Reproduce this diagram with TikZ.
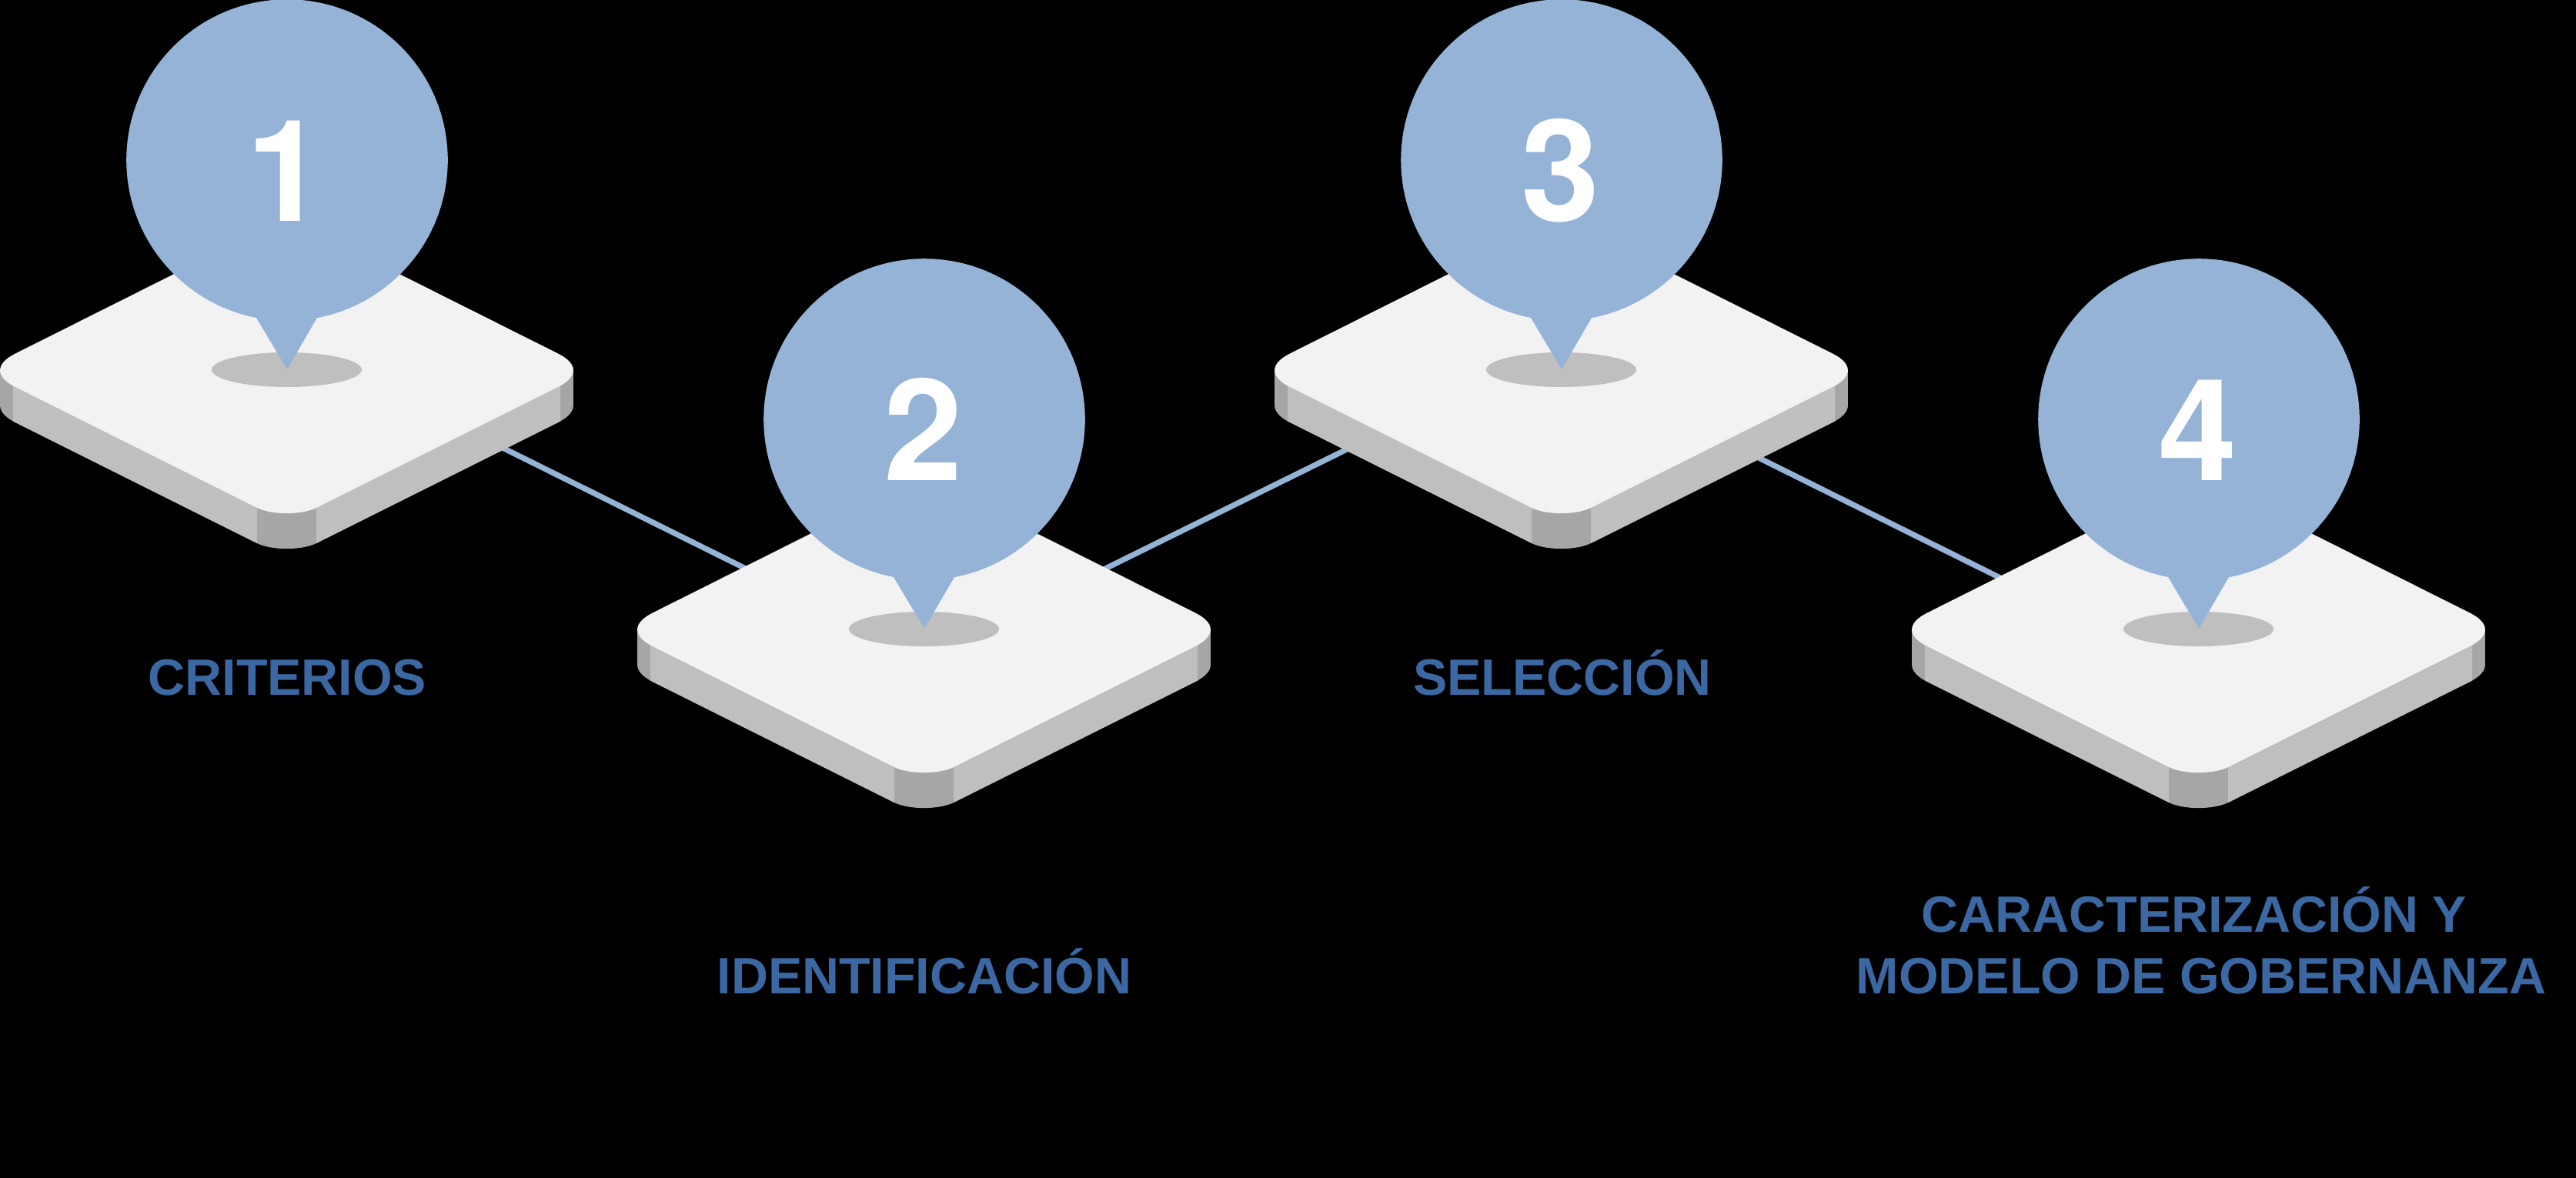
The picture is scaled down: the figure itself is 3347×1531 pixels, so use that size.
\documentclass[tikz,border=0pt]{standalone}
\usepackage{fontspec}
\setmainfont{Liberation Sans}
\newfontfamily\digitfont{TeX Gyre Heros}
\definecolor{pinblue}{HTML}{95B3D7}
\definecolor{labelblue}{HTML}{3B68A3}
\definecolor{platetop}{HTML}{F2F2F2}
\definecolor{plateside}{HTML}{BFBFBF}
\definecolor{platecorner}{HTML}{A6A6A6}
\tikzset{
  link/.style={draw=pinblue,line width=3.6pt},
  digit/.style={text=white,anchor=base,inner sep=0pt,font=\fontsize{92}{92}\digitfont\bfseries},
  steplabel/.style={text=labelblue,anchor=base,inner sep=0pt,align=center,font=\fontsize{33.2}{40}\selectfont\bfseries}
}
% outline of a rounded rhombus plate, in plate-local pixels
\newcommand{\plateoutline}{
  (20,459.5) -- (334,302) .. controls (353,292) and (392,292) .. (411,302)
  -- (725,459.5) .. controls (751,472.5) and (751,488.5) .. (728,501.5)
  -- (411,660) .. controls (392,669.5) and (353,669.5) .. (334,660)
  -- (17,501.5) .. controls (-6,488.5) and (-6,472.5) .. (20,459.5) -- cycle}
\newcommand{\plate}[4]{% x shift, y shift, digit, node stem
  \begin{scope}[shift={(#1,#2)}]
    \fill[platecorner] (0,480) rectangle (745,526);
    \fill[platecorner,yshift=-23pt] \plateoutline;
    \fill[plateside] (17,501.5) -- (334,660) -- (334,706) -- (17,547.5) -- cycle;
    \fill[plateside] (728,501.5) -- (411,660) -- (411,706) -- (728,547.5) -- cycle;
    \fill[platetop] \plateoutline;
    \fill[plateside] (372.5,480.5) ellipse [x radius=97.5,y radius=22.5];
    \fill[pinblue] (373,208) circle [radius=208.8];
    \fill[pinblue] (333,411) -- (333,413) -- (373,480) -- (412,413) -- (412,411) -- cycle;
    \node[digit] (#4) at (372,287) {#3};
  \end{scope}
}
\begin{document}
\begin{tikzpicture}[x=0.5pt,y=-0.5pt]
  \useasboundingbox (0,0) rectangle (3347,1531);
  \fill[black] (0,0) rectangle (3347,1531);
  \clip (0,0) rectangle (3347,1531);
  \coordinate (a1) at (643,577);
  \coordinate (a2) at (975,742);
  \coordinate (b1) at (1428,743);
  \coordinate (b2) at (1758,580);
  \coordinate (c1) at (2277,591);
  \coordinate (c2) at (2607,755);
  \draw[link] (a1) -- (a2);
  \draw[link] (b1) -- (b2);
  \draw[link] (c1) -- (c2);
  \plate{0}{0}{1}{one}
  \plate{828}{337}{2}{two}
  \plate{1656}{0}{3}{three}
  \plate{2484}{337}{4}{four}
  \node[steplabel] (criterios) at (373.5,903) {CRITERIOS};
  \node[steplabel] (identificacion) at (1201,1291) {IDENTIFICACIÓN};
  \node[steplabel] (seleccion) at (2030,903) {SELECCIÓN};
  \node[steplabel] (caracterizacion) at (2860,1291) {CARACTERIZACIÓN Y\hspace*{9pt}\\MODELO DE GOBERNANZA};
\end{tikzpicture}
\end{document}
